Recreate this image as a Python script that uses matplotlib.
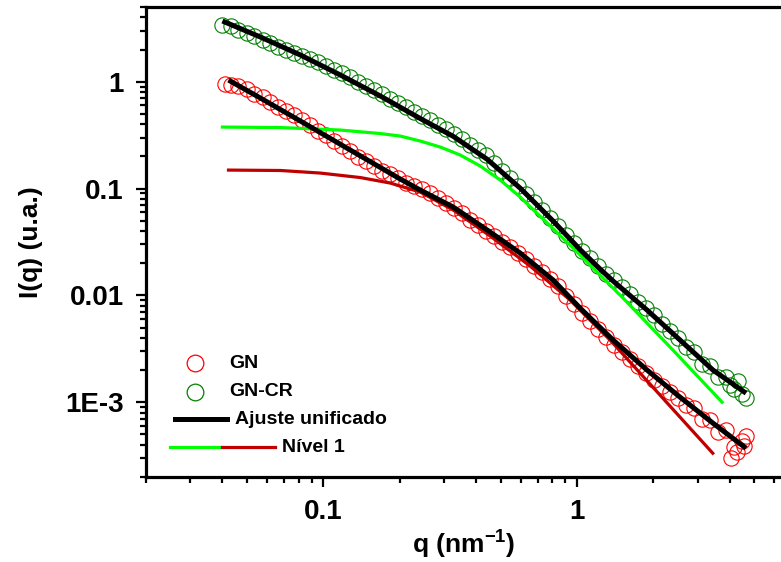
import matplotlib
matplotlib.use("Agg")
import matplotlib.pyplot as plt
from matplotlib.ticker import LogLocator, FuncFormatter, NullFormatter
from matplotlib.lines import Line2D

plt.rcParams["font.family"] = ["Liberation Sans", "DejaVu Sans"]
plt.rcParams["mathtext.fontset"] = "custom"
plt.rcParams["mathtext.rm"] = "Liberation Sans:bold"
plt.rcParams["mathtext.bf"] = "Liberation Sans:bold"

# GN-CR data (green circles)
q_gncr = [0.0401, 0.0432, 0.0464, 0.0499, 0.0536, 0.0577, 0.0620, 0.0667, 0.0717, 0.0771,
          0.0829, 0.0891, 0.0958, 0.1030, 0.1108, 0.1191, 0.1281, 0.1377, 0.1481, 0.1592,
          0.1712, 0.1841, 0.1979, 0.2128, 0.2288, 0.2460, 0.2645, 0.2844, 0.3058, 0.3289,
          0.3536, 0.3802, 0.4088, 0.4395, 0.4726, 0.5082, 0.5464, 0.5875, 0.6317, 0.6792,
          0.7303, 0.7852, 0.8443, 0.9078, 0.9761, 1.0495, 1.1285, 1.2134, 1.3047, 1.4028,
          1.5084, 1.6218, 1.7438, 1.8750, 2.0160, 2.1677, 2.3308, 2.5061, 2.6946, 2.8973,
          3.1153, 3.3497, 3.6017, 3.8726, 4.1640, 4.4771, 4.64, 4.315, 4.013]
I_gncr = [3.396, 3.288, 3.049, 2.858, 2.650, 2.457, 2.279, 2.113, 1.981, 1.857,
          1.740, 1.632, 1.529, 1.403, 1.287, 1.206, 1.107, 1.004, 0.921, 0.836,
          0.767, 0.696, 0.632, 0.580, 0.526, 0.477, 0.438, 0.3975, 0.3607, 0.3273,
          0.2907, 0.2582, 0.2293, 0.2060, 0.1733, 0.1474, 0.1254, 0.1055, 0.0888, 0.0747,
          0.0629, 0.0529, 0.0446, 0.0371, 0.0309, 0.0260, 0.02234, 0.01880, 0.01600, 0.01391,
          0.01196, 0.01040, 0.00875, 0.00760, 0.00654, 0.00545, 0.00463, 0.00398, 0.00328, 0.00298,
          0.00227, 0.00218, 0.00174, 0.00172, 0.00134, 0.00119, 0.00109, 0.00158, 0.00145]

# GN data (red circles)
q_gn = [0.0412, 0.0432, 0.0464, 0.0499, 0.0536, 0.0577, 0.0620, 0.0667, 0.0717, 0.0771,
        0.0829, 0.0891, 0.0958, 0.1030, 0.1108, 0.1191, 0.1281, 0.1377, 0.1481, 0.1592,
        0.1712, 0.1841, 0.1979, 0.2128, 0.2288, 0.2460, 0.2645, 0.2844, 0.3058, 0.3289,
        0.3536, 0.3802, 0.4088, 0.4395, 0.4726, 0.5082, 0.5464, 0.5875, 0.6317, 0.6792,
        0.7303, 0.7852, 0.8443, 0.9078, 0.9761, 1.0495, 1.1285, 1.2134, 1.3047, 1.4028,
        1.5084, 1.6218, 1.7438, 1.8750, 2.0160, 2.1677, 2.3308, 2.5061, 2.6946, 2.8973,
        3.1153, 3.3497, 3.6017, 3.8726, 4.1640, 4.4771, 4.64, 4.277, 4.051, 4.557]
I_gn = [0.952, 0.931, 0.919, 0.854, 0.775, 0.719, 0.645, 0.586, 0.532, 0.483,
        0.438, 0.3932, 0.3491, 0.3169, 0.2813, 0.2527, 0.2244, 0.1993, 0.1809, 0.1624,
        0.1474, 0.1367, 0.1254, 0.1138, 0.1067, 0.0989, 0.0908, 0.0823, 0.0739, 0.0664,
        0.0590, 0.0513, 0.0455, 0.0404, 0.0359, 0.0319, 0.0283, 0.02516, 0.02187, 0.01901,
        0.01653, 0.01437, 0.01222, 0.00996, 0.00829, 0.00683, 0.00581, 0.00489, 0.00407, 0.00342,
        0.00294, 0.00253, 0.00218, 0.00187, 0.00161, 0.00143, 0.00124, 0.00110, 0.000939, 0.000881,
        0.000702, 0.000680, 0.000525, 0.000548, 0.000380, 0.000432, 0.000481, 0.000341, 0.000300, 0.000388]

# unified fits
q_fit_gncr = [0.0401, 0.0566, 0.0814, 0.117, 0.1681, 0.2416, 0.3258, 0.4434, 0.5981,
              0.8066, 1.030, 1.235, 1.390, 1.891, 2.551, 3.44, 4.64]
I_fit_gncr = [3.70, 2.62, 1.778, 1.155, 0.735, 0.452, 0.3080, 0.1878, 0.1008,
              0.0496, 0.0268, 0.01763, 0.01361, 0.00729, 0.00382, 0.0020, 0.001217]
q_fit_gn = [0.04238, 0.0566, 0.0814, 0.128, 0.2015, 0.2416, 0.3258, 0.4434, 0.5981,
            0.8066, 1.030, 1.390, 1.891, 2.551, 3.44, 4.64]
I_fit_gn = [1.037, 0.7035, 0.4285, 0.2293, 0.1227, 0.0968, 0.0671, 0.0409, 0.0249,
            0.01391, 0.0076, 0.00382, 0.0020, 0.001116, 0.000637, 0.000372]

# level 1 contributions
q_lv1_gncr = [0.0401, 0.0679, 0.117, 0.1681, 0.2015, 0.2416, 0.2896, 0.3471, 0.4161,
              0.4989, 0.5981, 0.750, 0.9847, 1.521, 2.394, 3.733]
I_lv1_gncr = [0.3765, 0.3725, 0.353, 0.3273, 0.310, 0.2785, 0.2446, 0.2060, 0.1624,
              0.1201, 0.0832, 0.0496, 0.02655, 0.00943, 0.00307, 0.001002]
q_lv1_gn = [0.04238, 0.0679, 0.0976, 0.1402, 0.1841, 0.2416, 0.3258, 0.4557, 0.6548,
            0.941, 1.352, 1.944, 2.551, 3.43]
I_lv1_gn = [0.149, 0.1477, 0.1397, 0.1268, 0.1126, 0.0927, 0.0629, 0.0359, 0.0188,
            0.00904, 0.00382, 0.001477, 0.000725, 0.000334]

RED = "#ff0000"
DKGREEN = "#008000"
LIME = "#00ff00"
DKRED = "#c00000"

fig = plt.figure(figsize=(7.81, 5.62), dpi=100)
ax = fig.add_axes([0.1866, 0.1512, 0.8134, 0.8363])

ax.plot(q_gn, I_gn, "o", ms=11, mfc="none", mec=RED, mew=0.8, ls="none")
ax.plot(q_gncr, I_gncr, "o", ms=11, mfc="none", mec=DKGREEN, mew=0.8, ls="none")
ax.plot(q_lv1_gncr, I_lv1_gncr, color=LIME, lw=2.3)
ax.plot(q_lv1_gn, I_lv1_gn, color=DKRED, lw=2.3)
ax.plot(q_fit_gncr, I_fit_gncr, color="black", lw=3.6, solid_capstyle="butt")
ax.plot(q_fit_gn, I_fit_gn, color="black", lw=3.6, solid_capstyle="butt")

ax.set_xscale("log")
ax.set_yscale("log")
ax.set_xlim(0.02, 6.37)
ax.set_ylim(2e-4, 5)

for s in ["left", "bottom", "top"]:
    ax.spines[s].set_linewidth(2.3)
ax.spines["right"].set_visible(False)

ax.xaxis.set_major_locator(LogLocator(base=10, numticks=10))
ax.xaxis.set_minor_locator(LogLocator(base=10, subs=range(2, 10), numticks=20))
ax.yaxis.set_major_locator(LogLocator(base=10, numticks=10))
ax.yaxis.set_minor_locator(LogLocator(base=10, subs=range(2, 10), numticks=20))
ax.xaxis.set_minor_formatter(NullFormatter())
ax.yaxis.set_minor_formatter(NullFormatter())
ylabels = {1e-3: "1E-3", 1e-2: "0.01", 1e-1: "0.1", 1.0: "1"}
ax.yaxis.set_major_formatter(FuncFormatter(
    lambda v, p: next((t for k, t in ylabels.items() if abs(k - v) / k < 1e-6), "")))
xlabels = {0.1: "0.1", 1.0: "1", 10.0: "10"}
ax.xaxis.set_major_formatter(FuncFormatter(
    lambda v, p: next((t for k, t in xlabels.items() if abs(k - v) / k < 1e-6), "")))

ax.tick_params(which="both", direction="out", top=False, right=False,
               width=1.6, labelsize=20)
ax.tick_params(which="major", length=7, pad=9)
ax.tick_params(which="minor", length=4.5)
for lab in ax.get_xticklabels() + ax.get_yticklabels():
    lab.set_fontweight("bold")

ax.set_xlabel(r"q (nm$^{\mathbf{-1}}$)", fontsize=19, fontweight="bold", labelpad=1)
ax.set_ylabel("I(q) (u.a.)", fontsize=19, fontweight="bold", labelpad=16)

# legend, drawn by hand to follow the original layout
lt = fig.transFigure
def fx(px):
    return px / 781
def fy(py):
    return 1 - py / 562
fig.add_artist(Line2D([fx(195)], [fy(363)], marker="o", ms=12, mfc="none", mec=RED, mew=0.9, transform=lt))
fig.add_artist(Line2D([fx(195)], [fy(392)], marker="o", ms=12, mfc="none", mec=DKGREEN, mew=0.9, transform=lt))
fig.add_artist(Line2D([fx(175), fx(227)], [fy(419), fy(419)], color="black", lw=3.6, transform=lt))
fig.add_artist(Line2D([fx(170), fx(222)], [fy(447), fy(447)], color=LIME, lw=2.3, transform=lt))
fig.add_artist(Line2D([fx(222), fx(275)], [fy(447), fy(447)], color=DKRED, lw=2.3, transform=lt))
fig.text(fx(229), fy(363), "GN", fontsize=14, fontweight="bold", va="center")
fig.text(fx(229), fy(392), "GN-CR", fontsize=14, fontweight="bold", va="center")
fig.text(fx(235), fy(419), "Ajuste unificado", fontsize=14, fontweight="bold", va="center")
fig.text(fx(282), fy(447), "Nível 1", fontsize=14, fontweight="bold", va="center")

fig.savefig("out.png", dpi=100)
